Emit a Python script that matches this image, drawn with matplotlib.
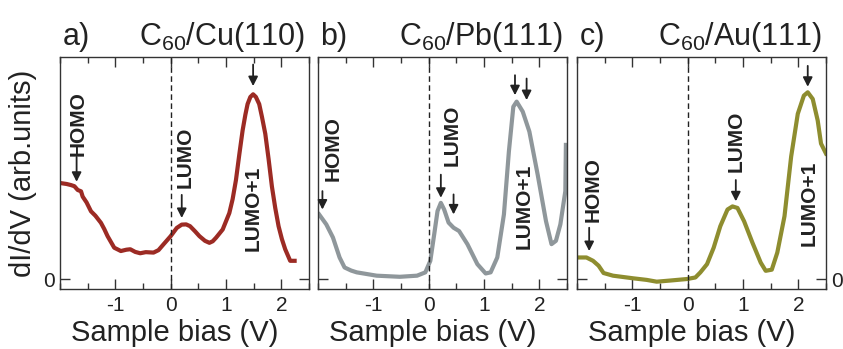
import matplotlib
matplotlib.use("Agg")
import matplotlib.pyplot as plt
from matplotlib.ticker import MultipleLocator

plt.rcParams["font.family"] = ["Liberation Sans", "DejaVu Sans"]
plt.rcParams["mathtext.default"] = "regular"

# dI/dV spectra (arb. units), sample bias in V
bias_cu = [-1.96, -1.88, -1.80, -1.74, -1.68, -1.62, -1.59, -1.52, -1.44, -1.36, -1.26, -1.20,
           -1.14, -1.02, -0.90, -0.80, -0.73, -0.64, -0.55, -0.45, -0.31, -0.22, -0.13, 0.0,
           0.11, 0.20, 0.28, 0.35, 0.44, 0.52, 0.62, 0.70, 0.76, 0.82, 0.94, 1.06, 1.12, 1.18,
           1.24, 1.30, 1.35, 1.39, 1.44, 1.49, 1.54, 1.60, 1.65, 1.71, 1.77, 1.83, 1.89, 1.95,
           2.01, 2.07, 2.16, 2.24]
didv_cu = [0.431, 0.428, 0.423, 0.418, 0.401, 0.395, 0.371, 0.345, 0.305, 0.285, 0.253, 0.225,
           0.193, 0.141, 0.126, 0.132, 0.134, 0.122, 0.116, 0.121, 0.119, 0.130, 0.156, 0.193,
           0.230, 0.245, 0.246, 0.238, 0.215, 0.193, 0.172, 0.163, 0.170, 0.186, 0.223, 0.297,
           0.360, 0.446, 0.560, 0.669, 0.740, 0.788, 0.820, 0.832, 0.820, 0.788, 0.730, 0.654,
           0.540, 0.416, 0.320, 0.238, 0.180, 0.134, 0.082, 0.082]

bias_pb = [-1.98, -1.85, -1.73, -1.61, -1.52, -1.40, -1.30, -0.94, -0.52, -0.21, -0.06, 0.03,
           0.10, 0.16, 0.22, 0.28, 0.36, 0.45, 0.55, 0.70, 0.88, 1.03, 1.12, 1.24, 1.36, 1.45,
           1.53, 1.59, 1.70, 1.82, 1.97, 2.12, 2.22, 2.30, 2.38, 2.47, 2.48]
didv_pb = [0.291, 0.246, 0.187, 0.097, 0.052, 0.038, 0.030, 0.015, 0.010, 0.015, 0.030, 0.082,
           0.201, 0.306, 0.343, 0.313, 0.254, 0.231, 0.216, 0.157, 0.067, 0.025, 0.030, 0.097,
           0.291, 0.575, 0.776, 0.799, 0.754, 0.664, 0.470, 0.261, 0.157, 0.172, 0.246, 0.396,
           0.604]

bias_au = [-1.98, -1.83, -1.71, -1.61, -1.52, -1.35, -0.98, -0.74, -0.56, -0.32, -0.01, 0.14,
           0.23, 0.35, 0.47, 0.59, 0.72, 0.81, 0.90, 1.02, 1.17, 1.32, 1.41, 1.52, 1.62, 1.75,
           1.87, 1.99, 2.10, 2.17, 2.26, 2.35, 2.41, 2.50]
didv_au = [0.097, 0.097, 0.082, 0.060, 0.027, 0.015, 0.003, -0.004, -0.012, -0.007, 0.0, 0.007,
           0.030, 0.067, 0.141, 0.238, 0.313, 0.327, 0.320, 0.260, 0.164, 0.074, 0.037, 0.042,
           0.119, 0.283, 0.551, 0.744, 0.826, 0.841, 0.811, 0.714, 0.610, 0.565]

bias_ticks = [-1, 0, 1, 2]
bias_ticklabels = ["-1", "0", "1", "2"]

# orbital labels: (text, x, y) and arrows: (x, y_tail, y_tip)
labels_cu = [("HOMO", -1.68, 0.70), ("LUMO", 0.26, 0.55), ("LUMO+1", 1.49, 0.32)]
arrows_cu = [(-1.70, 0.55, 0.438), (0.20, 0.379, 0.275), (1.49, 0.966, 0.869)]
labels_pb = [("HOMO", -1.73, 0.586), ("LUMO", 0.42, 0.649), ("LUMO+1", 1.73, 0.328)]
arrows_pb = [(-1.92, 0.396, 0.313), (0.22, 0.470, 0.366), (0.45, 0.381, 0.291),
             (1.56, 0.918, 0.828), (1.77, 0.903, 0.806)]
labels_au = [("HOMO", -1.71, 0.405), ("LUMO", 0.87, 0.618), ("LUMO+1", 2.20, 0.342)]
arrows_au = [(-1.78, 0.231, 0.126), (0.87, 0.446, 0.350), (2.17, 0.960, 0.866)]

panels = [
    ("a)", "C$_{60}$/Cu(110)", bias_cu, didv_cu, "#9c2b24", labels_cu, arrows_cu, "left"),
    ("b)", "C$_{60}$/Pb(111)", bias_pb, didv_pb, "#8f979b", labels_pb, arrows_pb, None),
    ("c)", "C$_{60}$/Au(111)", bias_au, didv_au, "#8e8d2f", labels_au, arrows_au, "right"),
]

W, H = 843, 349
fig = plt.figure(figsize=(W / 100, H / 100), dpi=100)
lefts = [60, 318, 577]
ax_w, ax_top, ax_bot = 249, 57, 289
ink = "#222222"

for left, (tag, title, x, y, color, labels, arrows, zero_side) in zip(lefts, panels):
    ax = fig.add_axes([left / W, (H - ax_bot) / H, ax_w / W, (ax_bot - ax_top) / H])
    ax.plot(x, y, color=color, lw=3.0, solid_joinstyle="round")
    ax.axvline(0, color=ink, lw=1.0, ls=(0, (4, 2.5)))
    ax.set_xlim(-2.0, 2.5)
    ax.set_ylim(-0.045, 1.0)

    for s in ax.spines.values():
        s.set_color("#333333")
        s.set_linewidth(1.0)

    ax.set_xticks(bias_ticks)
    ax.set_xticklabels(bias_ticklabels)
    ax.xaxis.set_minor_locator(MultipleLocator(0.5))
    ax.set_yticks([0])
    ax.tick_params(axis="x", which="major", direction="in", length=7, width=1,
                   top=True, labelsize=15, pad=5, colors="#333333", labelcolor=ink)
    ax.tick_params(axis="x", which="minor", direction="in", length=4, width=1,
                   top=True, colors="#333333")
    ax.tick_params(axis="y", direction="in", length=7, width=1, left=True, right=True,
                   labelsize=15, pad=4, colors="#333333", labelcolor=ink,
                   labelleft=(zero_side == "left"), labelright=(zero_side == "right"))

    ax.set_xlabel("Sample bias (V)", fontsize=21, color=ink)
    ax.xaxis.set_label_coords(0.46, -0.13, transform=ax.transAxes)
    ax.xaxis.label.set_va("top")

    ax.text(0.01, 1.05, tag, transform=ax.transAxes, fontsize=22, ha="left", va="baseline",
            color=ink)
    ax.text(0.985, 1.05, title, transform=ax.transAxes, fontsize=22, ha="right",
            va="baseline", color=ink)

    for text, tx, ty in labels:
        ax.text(tx, ty, text, rotation=90, ha="center", va="center", fontsize=15,
                fontweight="bold", color=ink)
    for ax_x, y0, y1 in arrows:
        ax.annotate("", xy=(ax_x, y1), xytext=(ax_x, y0),
                    arrowprops=dict(arrowstyle="-|>,head_length=0.55,head_width=0.28",
                                    color=ink, lw=1.3, shrinkA=0, shrinkB=0))

    if zero_side == "left":
        ax.set_ylabel("dI/dV (arb.units)", fontsize=21, labelpad=4, color=ink)

fig.savefig("out.png", dpi=100)
